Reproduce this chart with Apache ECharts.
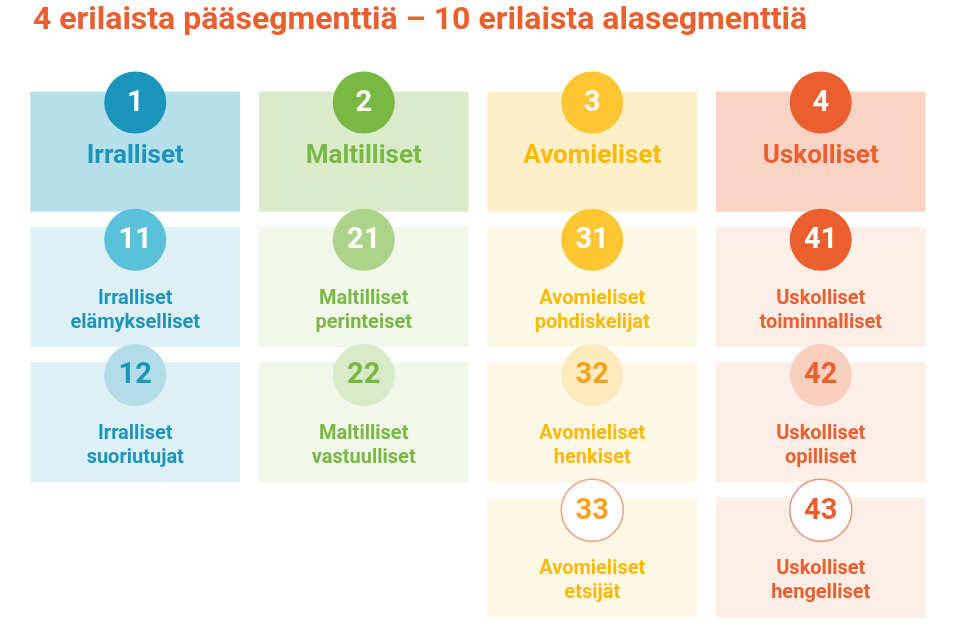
<!DOCTYPE html>
<html><head><meta charset="utf-8">
<script src="https://cdn.jsdelivr.net/npm/echarts@6/dist/echarts.min.js"></script>
<style>html,body{margin:0;background:#fff}#main{width:953px;height:633px}</style>
</head><body><div id="main"></div>
<script>
// segmentit: sarake, rivi, numero, nimi
var columns = [0, 0, 0, 1, 1, 1, 2, 2, 2, 2, 3, 3, 3, 3];
var rows    = [0, 1, 2, 0, 1, 2, 0, 1, 2, 3, 0, 1, 2, 3];
var numbers = ['1', '11', '12', '2', '21', '22', '3', '31', '32', '33', '4', '41', '42', '43'];
var labels = ['Irralliset', 'Irralliset\nelämykselliset', 'Irralliset\nsuoriutujat',
  'Maltilliset', 'Maltilliset\nperinteiset', 'Maltilliset\nvastuulliset',
  'Avomieliset', 'Avomieliset\npohdiskelijat', 'Avomieliset\nhenkiset', 'Avomieliset\netsijät',
  'Uskolliset', 'Uskolliset\ntoiminnalliset', 'Uskolliset\nopilliset', 'Uskolliset\nhengelliset'];

// värit: laatikko, ympyrä, numeron väri, tekstin väri, reunus
var styles = {
  '1':  ['#b8e0ea', '#1b95bb', '#fff', '#1b95bb', null],
  '11': ['#dff0f5', '#5bc1da', '#fff', '#1b95bb', null],
  '12': ['#dff0f5', '#b3dde9', '#1b95bb', '#1b95bb', null],
  '2':  ['#dbebcc', '#79b843', '#fff', '#79b843', null],
  '21': ['#f1f7eb', '#acd389', '#fff', '#79b843', null],
  '22': ['#f1f7eb', '#d8eac7', '#79b843', '#79b843', null],
  '3':  ['#fdefc7', '#fec632', '#fff', '#fbb900', null],
  '31': ['#fef8e7', '#fec632', '#fff', '#fbb900', null],
  '32': ['#fef8e7', '#fdebbf', '#f6a21c', '#fbb900', null],
  '33': ['#fef8e7', '#ffffff', '#f6a21c', '#fbb900', '#f4a07e'],
  '4':  ['#f9d4c6', '#eb5e2e', '#fff', '#eb5e2e', null],
  '41': ['#fdeee8', '#eb5e2e', '#fff', '#eb5e2e', null],
  '42': ['#fdeee8', '#f9cfbf', '#eb5e2e', '#eb5e2e', null],
  '43': ['#fdeee8', '#ffffff', '#eb5e2e', '#eb5e2e', '#f0937a']
};

var data = columns.map(function (c, i) { return [c, rows[i], numbers[i], labels[i]]; });
var font = 'Roboto';

var chart = echarts.init(document.getElementById('main'));
chart.setOption({
  title: {
    text: '4 erilaista pääsegmenttiä – 10 erilaista alasegmenttiä',
    left: 28, top: 0,
    textStyle: { color: '#eb5e2e', fontSize: 32, fontWeight: 'bold', fontFamily: font }
  },
  grid: { left: 21, right: 18, top: 84, bottom: 8 },
  xAxis: { type: 'value', min: -0.5, max: 3.5, show: false },
  yAxis: { type: 'value', min: -0.5, max: 3.5, inverse: true, show: false },
  series: [{
    type: 'custom',
    data: data,
    renderItem: function (params, api) {
      var p = api.coord([api.value(0), api.value(1)]);
      var s = api.size([1, 1]);
      var num = data[params.dataIndex][2];
      var lab = data[params.dataIndex][3];
      var st = styles[num];
      var w = s[0] * 0.918, h = s[1] * 0.889;
      var top = p[1] - h / 2;
      var main = api.value(1) === 0;
      var cy = top + (main ? 11 : 13);
      return {
        type: 'group',
        children: [
          { type: 'rect', shape: { x: p[0] - w / 2, y: top, width: w, height: h }, style: { fill: st[0] } },
          { type: 'circle', shape: { cx: p[0], cy: cy, r: 31 },
            style: { fill: st[1], stroke: st[4] || null, lineWidth: st[4] ? 1.5 : 0 } },
          { type: 'text', x: p[0], y: cy + 1,
            style: { text: num, fill: st[2], fontSize: 29, fontWeight: 'bold', fontFamily: font,
              align: 'center', verticalAlign: 'middle' } },
          { type: 'text', x: p[0], y: main ? p[1] + 5 : p[1] + 24,
            style: { text: lab, fill: st[3], fontSize: main ? 26 : 20, fontWeight: 'bold', fontFamily: font,
              lineHeight: 24, align: 'center', verticalAlign: 'middle' } }
        ]
      };
    }
  }]
});
</script></body></html>
